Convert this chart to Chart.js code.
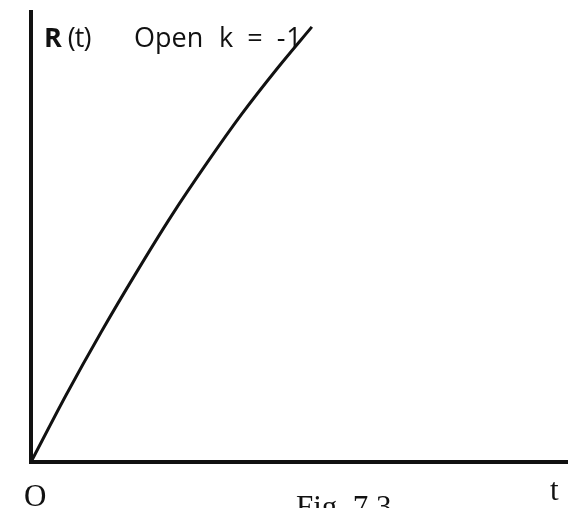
<!DOCTYPE html>
<html>
<head>
<meta charset="utf-8">
<script src="https://cdn.jsdelivr.net/npm/chart.js@4.4.1/dist/chart.umd.min.js"></script>
<style>
    html, body { margin: 0; padding: 0; background: #fff; }
    #wrap { position: relative; width: 584px; height: 508px; overflow: hidden; }
    canvas { position: absolute; left: 0; top: 0; }
    .lbl { position: absolute; white-space: pre; color: #111; line-height: 1; }
    .sans { font-family: "Open Sans", "DejaVu Sans", sans-serif; font-size: 27px; }
    .serif { font-family: "Liberation Serif", serif; font-size: 31px; }
</style>
</head>
<body>
<div id="wrap">
    <canvas id="rGrafik" width="584" height="508"></canvas>
    <div class="lbl sans" style="left:44px; top:23px;"><b>R</b><span style="letter-spacing:-1px;"> (t)</span></div>
    <div class="lbl sans" style="left:134px; top:23px;">Open</div>
    <div class="lbl sans" style="left:219px; top:23px; word-spacing:5px; letter-spacing:1px;">k = -1</div>
    <div class="lbl serif" style="left:24px; top:480px;">O</div>
    <div class="lbl serif" style="left:550px; top:474px;">t</div>
    <div class="lbl serif" style="left:296px; top:491px;">Fig. 7.3</div>
</div>
<script>
// curve, both axes 0..100
const tValues = [0, 6.55, 13.1, 19.7, 26.2, 32.8, 39.3, 45.9, 52.4];
const rValues = [0, 14.9, 28.9, 42.2, 54.7, 66.4, 77.3, 87.4, 96.7];

document.addEventListener('DOMContentLoaded', function () {
    const points = tValues.map(function (t, i) {
        return { x: t, y: rValues[i] };
    });

    const axisStyle = {
        display: true,
        min: 0,
        max: 100,
        ticks: { display: false },
        grid: { display: false, drawTicks: false },
        border: { display: true, color: '#111', width: 4 }
    };

    const ctx = document.getElementById('rGrafik').getContext('2d');
    new Chart(ctx, {
        type: 'scatter',
        data: {
            datasets: [{
                label: 'R(t)',
                data: points,
                showLine: true,
                borderColor: '#111',
                borderWidth: 3,
                pointRadius: 0,
                cubicInterpolationMode: 'monotone',
                fill: false
            }]
        },
        options: {
            responsive: false,
            animation: false,
            layout: { padding: { left: 31, top: 12, right: 17, bottom: 46 } },
            plugins: {
                legend: { display: false },
                tooltip: { enabled: false }
            },
            scales: {
                x: Object.assign({ type: 'linear' }, axisStyle),
                y: Object.assign({ type: 'linear' }, axisStyle)
            }
        }
    });
});
</script>
</body>
</html>
